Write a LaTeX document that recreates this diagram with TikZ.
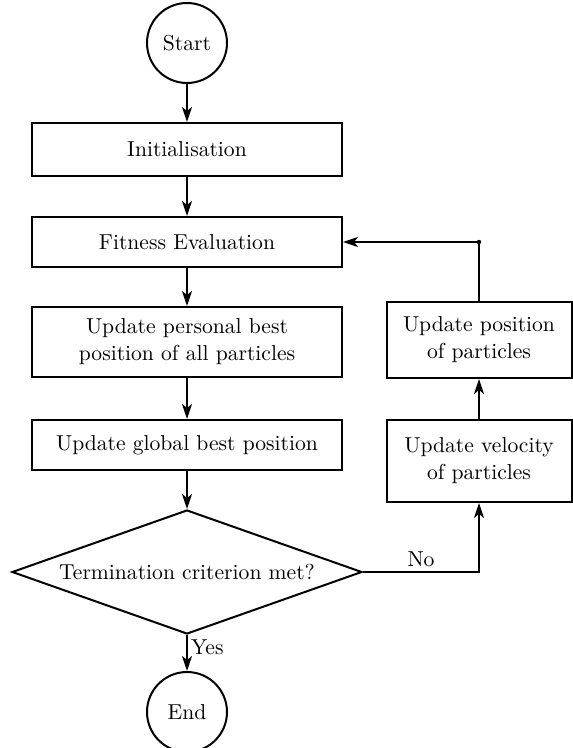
\documentclass[tikz,border=0pt]{standalone}
\usetikzlibrary{shapes.geometric,arrows.meta}
\begin{document}
\begin{tikzpicture}[x=0.5pt,y=-0.5pt,
  every node/.style={font=\fontsize{10.8}{13.5}\selectfont},
  box/.style={draw,line width=1pt,rectangle,inner sep=0pt,align=center},
  term/.style={draw,line width=1pt,circle,minimum size=40pt,inner sep=0pt},
  decision/.style={draw,line width=1pt,diamond,aspect=2.82,minimum width=175pt,minimum height=62pt,inner sep=0pt},
  arr/.style={line width=1pt,-{Stealth[length=7.5pt,width=5pt,inset=2pt]}}]
\useasboundingbox (0,0) rectangle (572,748);
\node[term] (start) at (187,43) {Start};
\node[box,minimum width=155pt,minimum height=26.5pt] (init) at (187,149.5) {Initialisation};
\node[box,minimum width=155pt,minimum height=25pt] (fit) at (187,242) {Fitness Evaluation};
\node[box,minimum width=155pt,minimum height=35pt] (pers) at (187,342) {Update personal best\\position of all particles};
\node[box,minimum width=155pt,minimum height=25pt] (glob) at (187,445) {Update global best position};
\node[decision] (dec) at (187,572) {Termination criterion met?};
\node[term] (end) at (187,712) {End};
\node[box,minimum width=92.5pt,minimum height=38pt] (posn) at (479,340) {Update position\\of particles};
\node[box,minimum width=92.5pt,minimum height=41pt] (vel) at (479,461) {Update velocity\\of particles};

\draw[arr] (start) -- (init);
\draw[arr] (init) -- (fit);
\draw[arr] (fit) -- (pers);
\draw[arr] (pers) -- (glob);
\draw[arr] (glob) -- (dec);
\draw[arr] (dec.south) -- node[pos=0.35,anchor=west,inner sep=1.5pt] (yes) {Yes} (end);
\draw[arr] (dec.east) -- node[above,pos=0.5,inner sep=2pt] (no) {No} (dec.east -| vel.south) -- (vel.south);
\draw[arr] (vel) -- (posn);
\coordinate (corner) at (posn.north |- fit.east);
\draw[arr] (posn.north) -- (corner) -- (fit.east);
\fill (corner) circle (1.1pt);
\end{tikzpicture}
\end{document}
